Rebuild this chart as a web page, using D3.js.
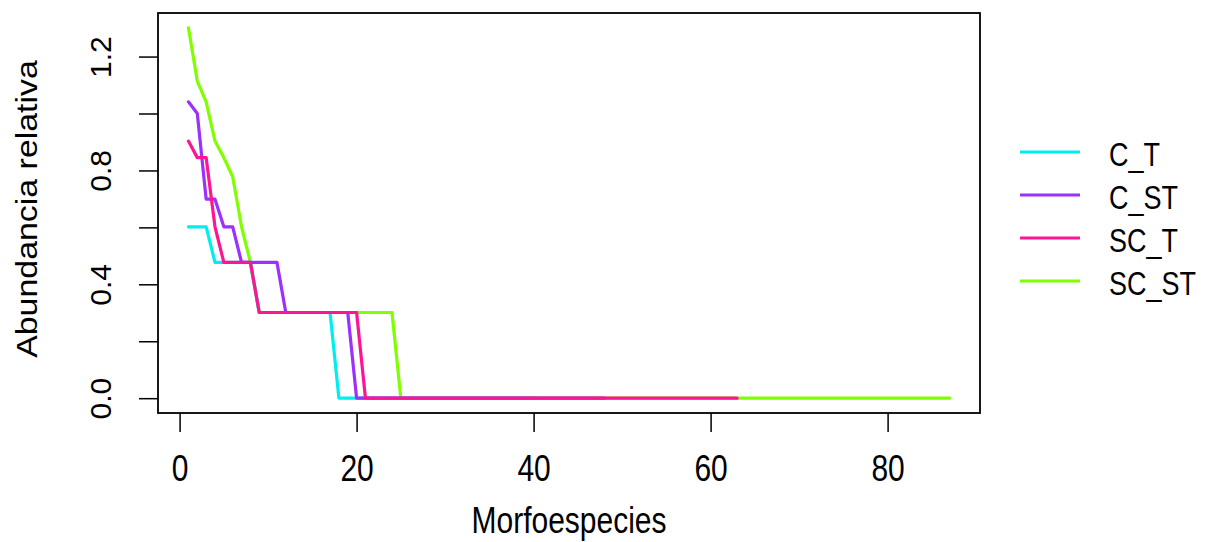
<!DOCTYPE html>
<html>
<head>
<meta charset="utf-8">
<script src="https://cdn.jsdelivr.net/npm/d3@7"></script>
<style>
  html, body { margin: 0; padding: 0; background: #fff; }
  svg { display: block; }
  text { font-family: "Liberation Sans", Arial, sans-serif; fill: #000; }
</style>
</head>
<body>
<svg id="chart" width="1224" height="542"></svg>
<script>
// Rank-abundance curves: relative abundance (log10 of counts) per morphospecies rank
const seriesNames = ["C_T", "C_ST", "SC_T", "SC_ST"];
const seriesColors = ["#00EEEE", "#9B30FF", "#FF1493", "#7FFF00"];

const C_T = [0.602, 0.602, 0.602, 0.477, 0.477, 0.477, 0.477, 0.477,
  0.301, 0.301, 0.301, 0.301, 0.301, 0.301, 0.301, 0.301, 0.301,
  0, 0, 0, 0, 0, 0, 0, 0, 0, 0, 0, 0, 0, 0, 0, 0, 0, 0, 0, 0, 0, 0, 0];

const C_ST = [1.041, 1.0, 0.699, 0.699, 0.602, 0.602, 0.477, 0.477, 0.477, 0.477, 0.477,
  0.301, 0.301, 0.301, 0.301, 0.301, 0.301, 0.301, 0.301,
  0, 0, 0, 0, 0, 0, 0, 0, 0, 0, 0, 0, 0, 0, 0, 0, 0, 0, 0, 0, 0, 0, 0, 0, 0, 0, 0, 0, 0];

const SC_T = [0.903, 0.845, 0.845, 0.602, 0.477, 0.477, 0.477, 0.477,
  0.301, 0.301, 0.301, 0.301, 0.301, 0.301, 0.301, 0.301, 0.301, 0.301, 0.301, 0.301,
  0, 0, 0, 0, 0, 0, 0, 0, 0, 0, 0, 0, 0, 0, 0, 0, 0, 0, 0, 0, 0, 0,
  0, 0, 0, 0, 0, 0, 0, 0, 0, 0, 0, 0, 0, 0, 0, 0, 0, 0, 0, 0, 0];

const SC_ST = [1.301, 1.114, 1.041, 0.903, 0.845, 0.778, 0.602, 0.477,
  0.301, 0.301, 0.301, 0.301, 0.301, 0.301, 0.301, 0.301,
  0.301, 0.301, 0.301, 0.301, 0.301, 0.301, 0.301, 0.301,
  0, 0, 0, 0, 0, 0, 0, 0, 0, 0, 0, 0, 0, 0, 0, 0, 0, 0, 0, 0, 0,
  0, 0, 0, 0, 0, 0, 0, 0, 0, 0, 0, 0, 0, 0, 0, 0, 0, 0, 0, 0, 0,
  0, 0, 0, 0, 0, 0, 0, 0, 0, 0, 0, 0, 0, 0, 0, 0, 0, 0, 0, 0, 0];

const xTicks = [0, 20, 40, 60, 80];
const yTicks = [0, 0.2, 0.4, 0.6, 0.8, 1.0, 1.2];
const yTickLabels = ["0.0", "", "0.4", "", "0.8", "", "1.2"];
const xTitle = "Morfoespecies";
const yTitle = "Abundancia relativa";

// draw order: SC_ST underneath, SC_T on top
const drawOrder = [3, 0, 1, 2];
const allSeries = [C_T, C_ST, SC_T, SC_ST];

const box = { left: 158, right: 980, top: 13, bottom: 413 };
const fontSize = 30;
const stretch = 1.2;   // glyphs are drawn taller than wide

const svg = d3.select("#chart");

// axis limits padded by 4% on each side
const xMax = d3.max(allSeries, s => s.length);
const yMax = d3.max(allSeries, s => d3.max(s));
const xPad = (xMax - 1) * 0.04, yPad = yMax * 0.04;
const x = d3.scaleLinear().domain([1 - xPad, xMax + xPad]).range([box.left, box.right]);
const y = d3.scaleLinear().domain([-yPad, yMax + yPad]).range([box.bottom, box.top]);

const line = d3.line().x((d, i) => x(i + 1)).y(d => y(d));

svg.append("defs").append("clipPath").attr("id", "plotclip")
  .append("rect").attr("x", box.left).attr("y", box.top)
  .attr("width", box.right - box.left).attr("height", box.bottom - box.top);

const plot = svg.append("g").attr("clip-path", "url(#plotclip)");
drawOrder.forEach(k => {
  plot.append("path")
    .datum(allSeries[k])
    .attr("fill", "none")
    .attr("stroke", seriesColors[k])
    .attr("stroke-width", 3.2)
    .attr("stroke-linejoin", "round")
    .attr("stroke-linecap", "round")
    .attr("d", line);
});

// x axis
const xAxis = svg.append("g")
  .attr("transform", `translate(0,${box.bottom})`)
  .call(d3.axisBottom(x).tickValues(xTicks).tickSize(19).tickFormat(d3.format("d")));
xAxis.select(".domain").remove();
xAxis.selectAll(".tick line").attr("stroke", "#000").attr("stroke-width", 1.5);
xAxis.selectAll(".tick text")
  .attr("font-size", fontSize).attr("font-family", null).attr("fill", "#000")
  .attr("y", null).attr("dy", null)
  .attr("dominant-baseline", "central")
  .attr("transform", `translate(0,56) scale(1,${stretch})`);

// y axis with labels parallel to the axis
const yAxis = svg.append("g")
  .attr("transform", `translate(${box.left},0)`)
  .call(d3.axisLeft(y).tickValues(yTicks).tickSize(19).tickFormat((d, i) => yTickLabels[i]));
yAxis.select(".domain").remove();
yAxis.selectAll(".tick line").attr("stroke", "#000").attr("stroke-width", 1.5);
yAxis.selectAll(".tick text")
  .attr("font-size", fontSize).attr("font-family", null).attr("fill", "#000")
  .attr("x", null).attr("dy", null)
  .attr("text-anchor", "middle")
  .attr("dominant-baseline", "central")
  .attr("transform", "translate(-58,0) rotate(-90)");

// plot frame
svg.append("rect")
  .attr("x", box.left).attr("y", box.top)
  .attr("width", box.right - box.left).attr("height", box.bottom - box.top)
  .attr("fill", "none").attr("stroke", "#000").attr("stroke-width", 1.8);

// axis titles
svg.append("text")
  .attr("transform", `translate(${(box.left + box.right) / 2},521) scale(1,${stretch})`)
  .attr("text-anchor", "middle").attr("dominant-baseline", "central")
  .attr("font-size", fontSize).text(xTitle);

svg.append("text")
  .attr("transform", `translate(27,${(box.top + box.bottom) / 2 - 4}) rotate(-90) scale(1.13,1)`)
  .attr("text-anchor", "middle").attr("dominant-baseline", "central")
  .attr("font-size", fontSize).text(yTitle);

// legend outside the plot on the right
const legend = svg.append("g");
seriesNames.forEach((name, i) => {
  const ly = 152 + i * 43;
  legend.append("line")
    .attr("x1", 1020).attr("x2", 1080).attr("y1", ly).attr("y2", ly)
    .attr("stroke", seriesColors[i]).attr("stroke-width", 3.2);
  legend.append("text")
    .attr("transform", `translate(1109,${ly + 3}) scale(1,${stretch})`)
    .attr("dominant-baseline", "central")
    .attr("font-size", 27).text(name);
});
</script>
</body>
</html>
